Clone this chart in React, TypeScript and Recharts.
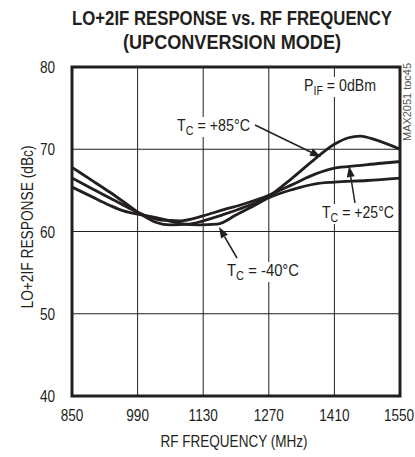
import React from 'react';
import {
  LineChart, Line, XAxis, YAxis, CartesianGrid, ReferenceArea,
} from 'recharts';

// frequency ticks (MHz) and response ticks (dBc)
const FREQ_TICKS = [850, 990, 1130, 1270, 1410, 1550];
const RESP_TICKS = [40, 50, 60, 70, 80];

// TC = +85°C
const FREQ_85 = [850, 890, 930, 970, 1000, 1030, 1060, 1100, 1130, 1170, 1220, 1270, 1320, 1370, 1410, 1440, 1465, 1500, 1550];
const RESP_85 = [67.8, 66.3, 64.8, 63.2, 62.0, 61.1, 60.8, 60.9, 61.3, 62.0, 63.0, 64.3, 66.5, 68.9, 70.6, 71.4, 71.6, 71.1, 70.0];

// TC = +25°C
const FREQ_25 = [850, 890, 930, 970, 1000, 1040, 1080, 1130, 1170, 1220, 1270, 1320, 1370, 1410, 1460, 1510, 1550];
const RESP_25 = [66.5, 65.3, 64.1, 62.9, 62.1, 61.4, 61.3, 61.9, 62.6, 63.4, 64.4, 65.7, 67.0, 67.7, 68.0, 68.3, 68.5];

// TC = -40°C
const FREQ_M40 = [850, 890, 930, 960, 990, 1030, 1080, 1120, 1160, 1200, 1240, 1270, 1320, 1370, 1410, 1480, 1550];
const RESP_M40 = [65.4, 64.3, 63.2, 62.5, 62.1, 61.7, 61.0, 60.8, 60.9, 62.0, 63.2, 64.1, 65.1, 65.8, 66.0, 66.2, 66.5];

const toRows = (f: number[], r: number[]) => f.map((x, i) => ({ freq: x, resp: r[i] }));

const INK = '#231f20';
const FONT = "'Liberation Sans', Arial, sans-serif";
const SQUEEZE = 0.8;

// tick label drawn with a condensed look (no narrow font is installed)
const NarrowTick = (props: any) => {
  const { x, y, payload, textAnchor, vertical } = props;
  return (
    <text transform={`translate(${x},${y}) scale(${SQUEEZE},1)`} textAnchor={textAnchor}
      dy={vertical ? '0.36em' : '0.71em'} fontSize={17} fill={INK} fontFamily={FONT}>
      {payload.value}
    </text>
  );
};

const XTick = (props: any) => <NarrowTick {...props} textAnchor="middle" />;
const YTick = (props: any) => <NarrowTick {...props} textAnchor="end" vertical />;

const Arrow = ({ x1, y1, x2, y2 }: { x1: number; y1: number; x2: number; y2: number }) => {
  const a = Math.atan2(y2 - y1, x2 - x1);
  const len = 11, w = 4;
  const bx = x2 - len * Math.cos(a), by = y2 - len * Math.sin(a);
  const p1 = `${bx + w * Math.sin(a)},${by - w * Math.cos(a)}`;
  const p2 = `${bx - w * Math.sin(a)},${by + w * Math.cos(a)}`;
  return (
    <g>
      <line x1={x1} y1={y1} x2={bx} y2={by} stroke={INK} strokeWidth={1.5} />
      <polygon points={`${x2},${y2} ${p1} ${p2}`} fill={INK} />
    </g>
  );
};

const SubLabel = ({ x, y, main, sub, rest, width }: { x: number; y: number; main: string; sub: string; rest: string; width: number }) => (
  <g>
    <rect x={x - 2} y={y - 14} width={width + 4} height={20} fill="#fff" />
    <text x={x} y={y} fontSize={16} fill={INK} fontFamily={FONT} textLength={width} lengthAdjust="spacingAndGlyphs">
      {main}<tspan fontSize={12} dy={4}>{sub}</tspan><tspan dy={-4}>{rest}</tspan>
    </text>
  </g>
);

export default function App() {
  return (
    <div style={{ position: 'relative', width: 415, height: 457, background: '#fff' }}>
      <style>{'body{margin:0}'}</style>
      <LineChart width={415} height={457} margin={{ top: 67, right: 15, bottom: 31, left: 12 }}>
        <CartesianGrid stroke={INK} strokeWidth={1} />
        <XAxis dataKey="freq" type="number" domain={[850, 1550]} ticks={FREQ_TICKS}
          axisLine={false} tickLine={false} tickSize={0} tickMargin={13} height={30}
          tick={<XTick />} allowDataOverflow />
        <YAxis type="number" domain={[40, 80]} ticks={RESP_TICKS} width={60}
          axisLine={false} tickLine={false} tickSize={0} tickMargin={17}
          tick={<YTick />} allowDataOverflow />
        <Line data={toRows(FREQ_85, RESP_85)} dataKey="resp" type="monotone" stroke={INK}
          strokeWidth={2.8} dot={false} isAnimationActive={false} />
        <Line data={toRows(FREQ_25, RESP_25)} dataKey="resp" type="monotone" stroke={INK}
          strokeWidth={2.8} dot={false} isAnimationActive={false} />
        <Line data={toRows(FREQ_M40, RESP_M40)} dataKey="resp" type="monotone" stroke={INK}
          strokeWidth={2.8} dot={false} isAnimationActive={false} />
        <ReferenceArea x1={850} x2={1550} y1={40} y2={80} fill="none" fillOpacity={0}
          stroke={INK} strokeWidth={3} />
      </LineChart>

      {/* titles, axis labels and callouts */}
      <svg width={415} height={457} style={{ position: 'absolute', left: 0, top: 0, pointerEvents: 'none' }}>
        <text x={232} y={25} textAnchor="middle" fontSize={21} fontWeight="bold" fill={INK} fontFamily={FONT}
          textLength={320} lengthAdjust="spacingAndGlyphs">
          LO+2IF RESPONSE vs. RF FREQUENCY
        </text>
        <text x={232} y={49} textAnchor="middle" fontSize={21} fontWeight="bold" fill={INK} fontFamily={FONT}
          textLength={218} lengthAdjust="spacingAndGlyphs">
          (UPCONVERSION MODE)
        </text>
        <text x={234} y={447} textAnchor="middle" fontSize={16} fill={INK} fontFamily={FONT}
          textLength={147} lengthAdjust="spacingAndGlyphs">
          RF FREQUENCY (MHz)
        </text>
        <text transform="translate(33,227) rotate(-90)" textAnchor="middle" fontSize={16} fill={INK} fontFamily={FONT}
          textLength={163} lengthAdjust="spacingAndGlyphs">
          LO+2IF RESPONSE (dBc)
        </text>
        <text transform="translate(411,102) rotate(-90)" textAnchor="middle" fontSize={10} fill="#555" fontFamily={FONT}
          textLength={78} lengthAdjust="spacingAndGlyphs">
          MAX2051 toc45
        </text>

        <SubLabel x={304} y={91} main="P" sub="IF" rest=" = 0dBm" width={72} />

        <SubLabel x={177} y={131} main="T" sub="C" rest=" = +85°C" width={73} />
        <Arrow x1={255} y1={125} x2={321} y2={157} />

        <SubLabel x={322} y={218} main="T" sub="C" rest=" = +25°C" width={72} />
        <Arrow x1={355} y1={203} x2={349} y2={166} />

        <SubLabel x={227} y={276} main="T" sub="C" rest=" = -40°C" width={72} />
        <Arrow x1={237} y1={258} x2={219} y2={227} />
      </svg>
    </div>
  );
}
